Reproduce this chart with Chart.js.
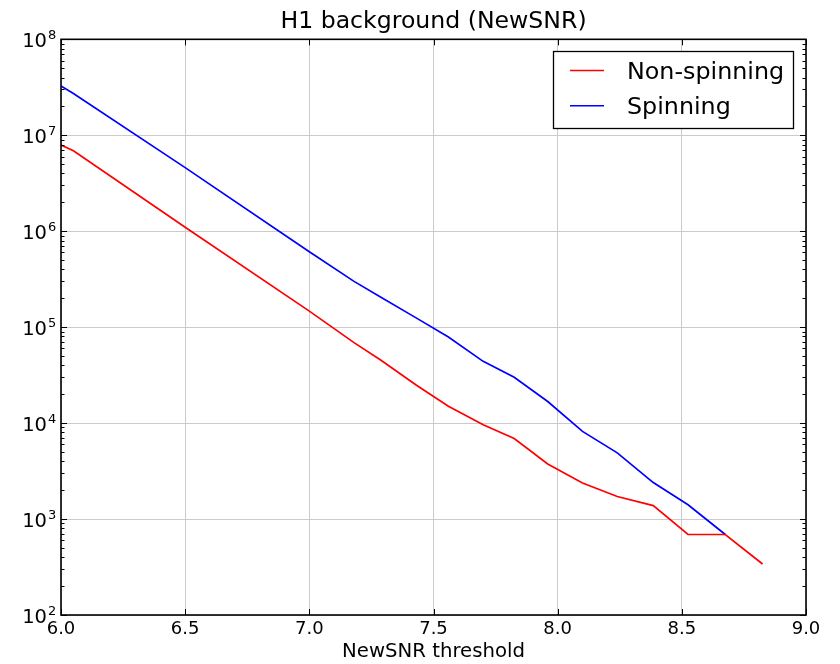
<!DOCTYPE html>
<html><head><meta charset="utf-8">
<script src="https://cdn.jsdelivr.net/npm/chart.js@4.4.1/dist/chart.umd.min.js"></script>
<style>html,body{margin:0;padding:0;background:#fff;} #wrap{width:840px;height:664px;position:relative}</style>
</head><body><div id="wrap"><canvas id="c" width="840" height="664"></canvas></div>
<script>
// ---- data ----
const thresholds  = [6.0, 6.05, 6.5, 7.0, 7.18, 7.29, 7.43, 7.56, 7.70, 7.825, 7.96, 8.10, 8.24, 8.385, 8.525, 8.675, 8.825];
const nonSpinning = [7.9e6, 6.9e6, 1.1e6, 1.47e5, 6.9e4, 4.5e4, 2.5e4, 1.5e4, 9.6e3, 6.9e3, 3.75e3, 2.37e3, 1.72e3, 1.38e3, 690, 690, 340];
const spinning    = [3.26e7, 2.72e7, 4.6e6, 6.1e5, 3.0e5, 2.04e5, 1.25e5, 7.9e4, 4.4e4, 3.0e4, 1.68e4, 8.2e3, 4.9e3, 2.4e3, 1.41e3, 690, null];
const seriesNames = ['Non-spinning', 'Spinning'];
const xTicks = [6.0, 6.5, 7.0, 7.5, 8.0, 8.5, 9.0];
const yExponents = [2, 3, 4, 5, 6, 7, 8];
const titleText = 'H1 background (NewSNR)';
const xTitle = 'NewSNR threshold';

const FONT = "'DejaVu Sans', sans-serif";
const yTicks = yExponents.map(e => Math.pow(10, e));

const decor = {
  id: 'decor',
  afterDraw(chart) {
    const {ctx, chartArea: a, scales: {x, y}} = chart;
    ctx.save();
    // inward tick marks
    ctx.strokeStyle = '#000';
    ctx.lineWidth = 1;
    ctx.beginPath();
    xTicks.forEach(v => {
      const px = Math.round(x.getPixelForValue(v)) + 0.5;
      ctx.moveTo(px, a.bottom); ctx.lineTo(px, a.bottom - 6);
      ctx.moveTo(px, a.top); ctx.lineTo(px, a.top + 6);
    });
    for (let i = 0; i < yExponents.length; i++) {
      const e = yExponents[i];
      const mMax = i === yExponents.length - 1 ? 1 : 9;
      for (let m = 1; m <= mMax; m++) {
        const py = Math.round(y.getPixelForValue(m * Math.pow(10, e))) + 0.5;
        const len = m === 1 ? 6 : 3.5;
        ctx.moveTo(a.left, py); ctx.lineTo(a.left + len, py);
        ctx.moveTo(a.right, py); ctx.lineTo(a.right - len, py);
      }
    }
    ctx.stroke();
    // frame
    ctx.lineWidth = 1.6;
    ctx.strokeRect(a.left, a.top, a.right - a.left, a.bottom - a.top);
    // y tick labels 10^n
    ctx.fillStyle = '#000';
    yExponents.forEach((e, i) => {
      const py = y.getPixelForValue(yTicks[i]);
      ctx.font = "19.5px " + FONT;
      ctx.textAlign = 'right';
      ctx.textBaseline = 'alphabetic';
      ctx.fillText('10', 47, py + 8);
      ctx.font = "13px " + FONT;
      ctx.textAlign = 'left';
      ctx.fillText(String(e), 48, py);
    });
    // legend
    const lx = 553.5, ly = 51.5, lw = 240, lh = 77;
    ctx.fillStyle = '#fff';
    ctx.fillRect(lx, ly, lw, lh);
    ctx.lineWidth = 1.3;
    ctx.strokeStyle = '#000';
    ctx.strokeRect(lx, ly, lw, lh);
    chart.data.datasets.forEach((ds, i) => {
      const cy = 70.5 + i * 35.2;
      ctx.strokeStyle = ds.borderColor;
      ctx.lineWidth = 1.6;
      ctx.beginPath(); ctx.moveTo(570, cy); ctx.lineTo(604, cy); ctx.stroke();
      ctx.fillStyle = '#000';
      ctx.font = "23.8px " + FONT;
      ctx.textAlign = 'left';
      ctx.textBaseline = 'alphabetic';
      ctx.fillText(ds.label, 627, cy + 8.6);
    });
    ctx.restore();
  }
};

new Chart(document.getElementById('c'), {
  type: 'line',
  data: {
    datasets: [
      { label: seriesNames[0], data: thresholds.map((t, i) => ({x: t, y: nonSpinning[i]})),
        borderColor: '#ff0000', borderWidth: 1.7, pointRadius: 0, tension: 0, fill: false },
      { label: seriesNames[1], data: thresholds.map((t, i) => ({x: t, y: spinning[i]})),
        borderColor: '#0000ff', borderWidth: 1.7, pointRadius: 0, tension: 0, fill: false }
    ]
  },
  options: {
    responsive: false,
    animation: false,
    devicePixelRatio: 1,
    layout: { padding: { left: 0, right: 34, top: 0, bottom: 0 } },
    plugins: {
      legend: { display: false },
      tooltip: { enabled: false },
      title: { display: true, text: titleText, color: '#000', fullSize: false,
        font: { family: FONT, size: 23.6, weight: 'normal' }, padding: { top: 8, bottom: 3 } }
    },
    scales: {
      x: {
        type: 'linear', min: 6, max: 9,
        afterBuildTicks: s => { s.ticks = xTicks.map(v => ({value: v})); },
        afterFit: s => { s.height = 49; },
        grid: { color: '#cbcbcb', lineWidth: 1, drawTicks: false },
        border: { display: false },
        ticks: { color: '#000', padding: 4, font: { family: FONT, size: 18 },
          callback: v => Number(v).toFixed(1), maxRotation: 0 },
        title: { display: true, text: xTitle, color: '#000',
          font: { family: FONT, size: 19.7 }, padding: { top: 0, bottom: 0 } }
      },
      y: {
        type: 'logarithmic', min: 100, max: 1e8,
        afterBuildTicks: s => { s.ticks = yTicks.map(v => ({value: v})); },
        afterFit: s => { s.width = 61; },
        grid: { color: '#cbcbcb', lineWidth: 1, drawTicks: false },
        border: { display: false },
        ticks: { display: false }
      }
    }
  },
  plugins: [decor]
});
</script>
</body></html>
